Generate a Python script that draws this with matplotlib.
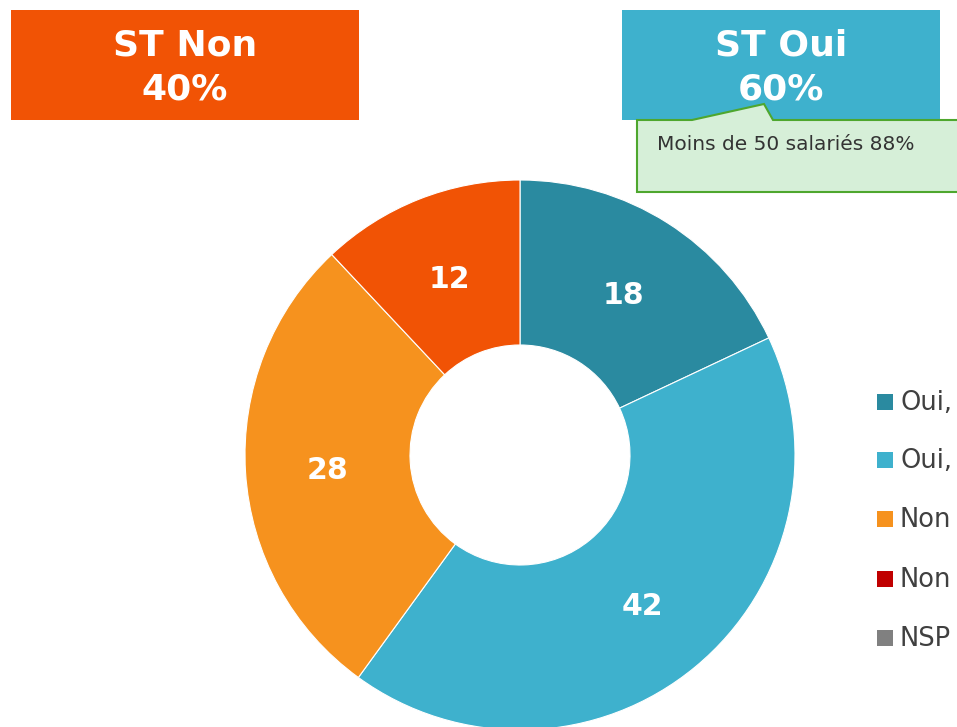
import matplotlib
matplotlib.use("Agg")
import matplotlib.pyplot as plt
from matplotlib.patches import Rectangle, Polygon

# ---- data ----
slice_values = [18, 42, 28, 12]
slice_colors = ["#2a8aa0", "#3eb1cd", "#f6921e", "#f15305"]
legend_labels = ["Oui,", "Oui,", "Non", "Non", "NSP"]
legend_colors = ["#2a8aa0", "#3eb1cd", "#f6921e", "#c00000", "#808080"]
box_texts = ["ST Non\n40%", "ST Oui\n60%"]
callout_text = "Moins de 50 salariés 88%"

W, H = 957, 727
fig = plt.figure(figsize=(W / 100, H / 100), dpi=100)
fig.patch.set_facecolor("white")

# overlay axes in pixel coordinates (y downward)
ov = fig.add_axes([0, 0, 1, 1])
ov.set_xlim(0, W)
ov.set_ylim(H, 0)
ov.axis("off")

# donut axes: center (520,455), radius 275 px
cx, cy, R = 520, 455, 275
ax = fig.add_axes([(cx - R) / W, (H - (cy + R)) / H, 2 * R / W, 2 * R / H])
wedges, texts, autotexts = ax.pie(
    slice_values, colors=slice_colors, startangle=90, counterclock=False,
    radius=1.0, autopct=lambda p: f"{p:.0f}", pctdistance=0.70,
    wedgeprops=dict(width=0.60, edgecolor="white", linewidth=0.8),
    textprops=dict(color="white", fontsize=21.5, fontweight="bold"))
for t in autotexts:
    t.set_va("center_baseline")
ax.set_xlim(-1, 1)
ax.set_ylim(-1, 1)
ax.set_aspect("equal")
ax.axis("off")

# header boxes
boxes = [(11, 10, 348, 110, "#f15305", 185), (622, 10, 318, 110, "#3eb1cd", 781)]
for (x, y, w, h, col, tx), txt in zip(boxes, box_texts):
    ov.add_patch(Rectangle((x, y), w, h, facecolor=col, edgecolor="none"))
    l1, l2 = txt.split("\n")
    ov.text(tx, 45, l1, ha="center", va="center", color="white",
            fontsize=26, fontweight="bold")
    ov.text(tx, 90, l2, ha="center", va="center", color="white",
            fontsize=26, fontweight="bold")

# callout
pts = [(637, 120), (692, 120), (764, 104), (773, 120), (965, 120),
       (965, 192), (637, 192)]
ov.add_patch(Polygon(pts, closed=True, facecolor="#d6efd8",
                     edgecolor="#4ea72e", linewidth=1.5))
ov.text(657, 145, callout_text, ha="left", va="center", color="#333333",
        fontsize=14.5)

# legend
rows = [402, 460, 519, 579, 638]
for yc, lab, col in zip(rows, legend_labels, legend_colors):
    ov.add_patch(Rectangle((877, yc - 8), 16, 16, facecolor=col, edgecolor="none"))
    ov.text(900, yc + 1, lab, ha="left", va="center", color="#404040", fontsize=18.5)

fig.savefig("out.png", dpi=100, facecolor="white")
